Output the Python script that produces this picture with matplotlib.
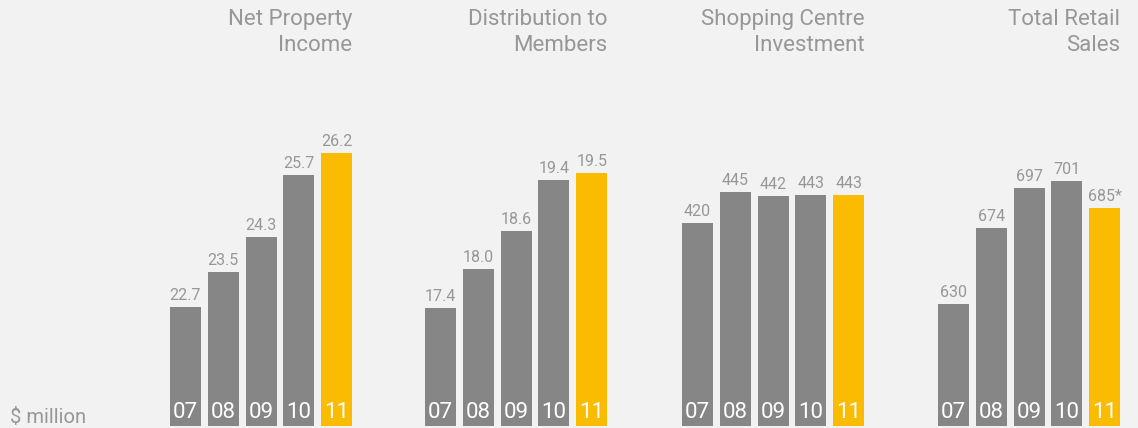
import matplotlib
matplotlib.use("Agg")
import matplotlib.pyplot as plt
from matplotlib.transforms import blended_transform_factory

# chart data
years = ["07", "08", "09", "10", "11"]
titles = ["Net Property\nIncome", "Distribution to\nMembers",
          "Shopping Centre\nInvestment", "Total Retail\nSales"]
net_property_income = [22.7, 23.5, 24.3, 25.7, 26.2]
distribution_to_members = [17.4, 18.0, 18.6, 19.4, 19.5]
shopping_centre_investment = [420, 445, 442, 443, 443]
total_retail_sales = [630, 674, 697, 701, 685]
value_labels = [
    ["22.7", "23.5", "24.3", "25.7", "26.2"],
    ["17.4", "18.0", "18.6", "19.4", "19.5"],
    ["420", "445", "442", "443", "443"],
    ["630", "674", "697", "701", "685*"],
]
unit_label = "$ million"

series = [net_property_income, distribution_to_members,
          shopping_centre_investment, total_retail_sales]

# layout / style
W, H = 1138, 428
BG = "#f2f2f2"
GREY = "#868686"
YELLOW = "#fbbb00"
TEXT = "#979797"
FONT = ["Roboto", "DejaVu Sans"]

# y ranges per panel (the source chart doesn't start at zero)
ylims = [(20.0, 26.72), (15.55, 20.18), (252.4, 496.2), (559.4, 730.3)]
panel_left_px = [166.6, 421.6, 678.6, 934.6]
panel_w_px = 189
ax_bottom_px = 426
ax_top_px = 130

fig = plt.figure(figsize=(W / 100, H / 100), dpi=100, facecolor=BG)

for i, vals in enumerate(series):
    ax = fig.add_axes([panel_left_px[i] / W, (H - ax_bottom_px) / H,
                       panel_w_px / W, (ax_bottom_px - ax_top_px) / H])
    ax.set_facecolor("none")
    lo, hi = ylims[i]
    x = list(range(len(vals)))
    colors = [GREY] * (len(vals) - 1) + [YELLOW]
    ax.bar(x, [v - lo for v in vals], bottom=lo, width=0.82, color=colors)
    ax.set_xlim(-0.5, len(vals) - 0.5)
    ax.set_ylim(lo, hi)
    ax.axis("off")

    for xi, v, lab, yr in zip(x, vals, value_labels[i], years):
        ax.annotate(lab, (xi, v), xytext=(0, 7), textcoords="offset pixels",
                    ha="center", va="baseline", fontsize=11.5, color=TEXT,
                    family=FONT, annotation_clip=False)
        ax.annotate(yr, (xi, lo), xytext=(0, 8), textcoords="offset pixels",
                    ha="center", va="baseline", fontsize=16, color="white",
                    family=FONT, annotation_clip=False)

    tr = blended_transform_factory(ax.transData, fig.transFigure)
    ax.text(len(vals) - 1 + 0.41, 1 - 9 / H, titles[i], transform=tr,
            ha="right", va="top", fontsize=16, color=TEXT,
            family=FONT, linespacing=1.3, multialignment="right")

fig.text(10 / W, 1 - 423 / H, unit_label, ha="left", va="baseline",
         fontsize=14.5, color=TEXT, family=FONT)

fig.savefig("out.png", dpi=100, facecolor=BG)
